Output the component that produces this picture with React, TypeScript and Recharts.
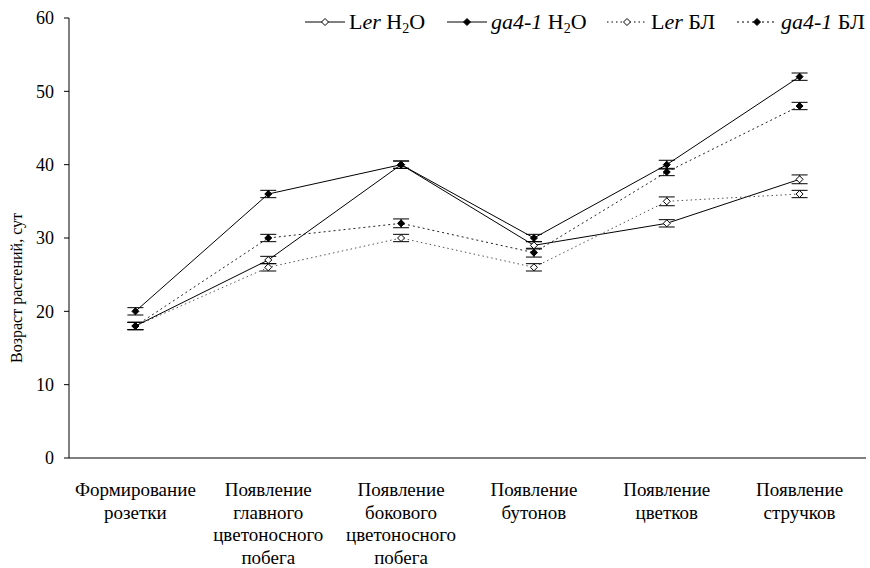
import { LineChart, Line, XAxis, YAxis, ErrorBar } from "recharts";

// Стадии развития (подписи оси X)
const CATEGORIES = [
  "Формирование розетки",
  "Появление главного цветоносного побега",
  "Появление бокового цветоносного побега",
  "Появление бутонов",
  "Появление цветков",
  "Появление стручков",
];

// Возраст растений, сут
const LER_H2O = [18, 27, 40, 29, 32, 38];
const GA_H2O = [20, 36, 40, 30, 40, 52];
const LER_BL = [18, 26, 30, 26, 35, 36];
const GA_BL = [18, 30, 32, 28, 39, 48];

// Ошибки
const ERR_LER_H2O = [0.5, 0.5, 0.5, 0.5, 0.5, 0.6];
const ERR_GA_H2O = [0.5, 0.5, 0.5, 0.5, 0.6, 0.5];
const ERR_LER_BL = [0.5, 0.5, 0.5, 0.5, 0.6, 0.5];
const ERR_GA_BL = [0.5, 0.5, 0.6, 0.6, 0.5, 0.5];

const Y_TICKS = [0, 10, 20, 30, 40, 50, 60];
const EDGE_TICKS = [0, 1, 2, 3, 4, 5, 6];

const data = CATEGORIES.map((c, i) => ({
  x: i + 0.5,
  name: c,
  lerH2O: LER_H2O[i],
  gaH2O: GA_H2O[i],
  lerBL: LER_BL[i],
  gaBL: GA_BL[i],
  eLerH2O: ERR_LER_H2O[i],
  eGaH2O: ERR_GA_H2O[i],
  eLerBL: ERR_LER_BL[i],
  eGaBL: ERR_GA_BL[i],
}));

const FONT = "'Times New Roman', 'Liberation Serif', serif";

const Diamond = ({ cx, cy, filled }: any) => {
  if (cx == null || cy == null) return null;
  const r = 3.5;
  return (
    <path
      d={`M${cx},${cy - r} L${cx + r},${cy} L${cx},${cy + r} L${cx - r},${cy} Z`}
      fill={filled ? "#000" : "#fff"}
      stroke="#000"
      strokeWidth={1}
    />
  );
};

const CatTick = ({ x, y, payload }: any) => {
  const idx = Math.floor(payload.value);
  const words = (CATEGORIES[idx] || "").split(" ");
  return (
    <text x={x} y={y} textAnchor="middle" fill="#000" style={{ fontFamily: FONT, fontSize: 19 }}>
      {words.map((w, k) => (
        <tspan key={k} x={x} dy={k === 0 ? 24 : 22.5}>
          {w}
        </tspan>
      ))}
    </text>
  );
};

function LegendMark({ dash, filled }: { dash?: string; filled: boolean }) {
  return (
    <svg width={40} height={10} style={{ marginRight: 4, flex: "none" }}>
      <line x1={0} y1={5} x2={40} y2={5} stroke="#000" strokeWidth={1} strokeDasharray={dash} />
      <path d="M20,1.5 L23.5,5 L20,8.5 L16.5,5 Z" fill={filled ? "#000" : "#fff"} stroke="#000" />
    </svg>
  );
}

const LEGEND_LEFT = [305, 447, 607, 737];

function Legend() {
  const item = (left: number) =>
    ({
      position: "absolute",
      left,
      top: 0,
      display: "flex",
      alignItems: "center",
      height: 26,
      whiteSpace: "nowrap",
    }) as const;
  const sub = { fontSize: 14, verticalAlign: "-4px", lineHeight: 0 } as const;
  return (
    <div
      style={{
        position: "absolute",
        left: 0,
        top: 9,
        fontFamily: FONT,
        fontSize: 22,
        color: "#000",
      }}
    >
      <div style={item(LEGEND_LEFT[0])}>
        <LegendMark filled={false} />
        <span>L<i>er</i> H<span style={sub}>2</span>O</span>
      </div>
      <div style={item(LEGEND_LEFT[1])}>
        <LegendMark filled />
        <span><i>ga4-1</i> H<span style={sub}>2</span>O</span>
      </div>
      <div style={item(LEGEND_LEFT[2])}>
        <LegendMark filled={false} dash="1.5 3" />
        <span>L<i>er</i> БЛ</span>
      </div>
      <div style={item(LEGEND_LEFT[3])}>
        <LegendMark filled dash="2 3" />
        <span><i>ga4-1</i> БЛ</span>
      </div>
    </div>
  );
}

export default function App() {
  return (
    <div style={{ position: "absolute", left: 0, top: 0, width: 870, height: 568, background: "#fff" }}>
      <LineChart
        width={870}
        height={568}
        data={data}
        margin={{ top: 18, right: 4, bottom: 0, left: 0 }}
      >
        <XAxis
          xAxisId="edges"
          dataKey="x"
          type="number"
          domain={[0, 6]}
          ticks={EDGE_TICKS}
          tick={false}
          tickSize={6}
          height={6}
          stroke="#000"
          axisLine={{ stroke: "#000" }}
          tickLine={{ stroke: "#000" }}
        />
        <XAxis
          xAxisId="labels"
          dataKey="x"
          type="number"
          domain={[0, 6]}
          ticks={data.map((d) => d.x)}
          tick={<CatTick />}
          axisLine={false}
          tickLine={false}
          height={104}
          interval={0}
        />
        <YAxis
          domain={[0, 60]}
          ticks={Y_TICKS}
          width={69}
          tickSize={5}
          tickMargin={10}
          interval={0}
          axisLine={{ stroke: "#000" }}
          tickLine={{ stroke: "#000" }}
          tick={{ fill: "#000", fontSize: 18, style: { fontFamily: FONT } }}
          label={{
            content: () => (
              <text
                transform="translate(22,288) rotate(-90)"
                textAnchor="middle"
                fill="#000"
                style={{ fontFamily: FONT, fontSize: 16 }}
              >
                Возраст растений, сут
              </text>
            ),
          }}
        />
        <Line
          xAxisId="edges"
          dataKey="lerH2O"
          stroke="#000"
          strokeWidth={1}
          dot={<Diamond filled={false} />}
          activeDot={false}
          isAnimationActive={false}
        >
          <ErrorBar dataKey="eLerH2O" width={8} stroke="#000" strokeWidth={1} direction="y" />
        </Line>
        <Line
          xAxisId="edges"
          dataKey="gaH2O"
          stroke="#000"
          strokeWidth={1}
          dot={<Diamond filled />}
          activeDot={false}
          isAnimationActive={false}
        >
          <ErrorBar dataKey="eGaH2O" width={8} stroke="#000" strokeWidth={1} direction="y" />
        </Line>
        <Line
          xAxisId="edges"
          dataKey="lerBL"
          stroke="#555"
          strokeWidth={1}
          strokeDasharray="1.5 3"
          dot={<Diamond filled={false} />}
          activeDot={false}
          isAnimationActive={false}
        >
          <ErrorBar dataKey="eLerBL" width={8} stroke="#000" strokeWidth={1} direction="y" />
        </Line>
        <Line
          xAxisId="edges"
          dataKey="gaBL"
          stroke="#222"
          strokeWidth={1}
          strokeDasharray="2 3"
          dot={<Diamond filled />}
          activeDot={false}
          isAnimationActive={false}
        >
          <ErrorBar dataKey="eGaBL" width={8} stroke="#000" strokeWidth={1} direction="y" />
        </Line>
      </LineChart>
      <Legend />
    </div>
  );
}
